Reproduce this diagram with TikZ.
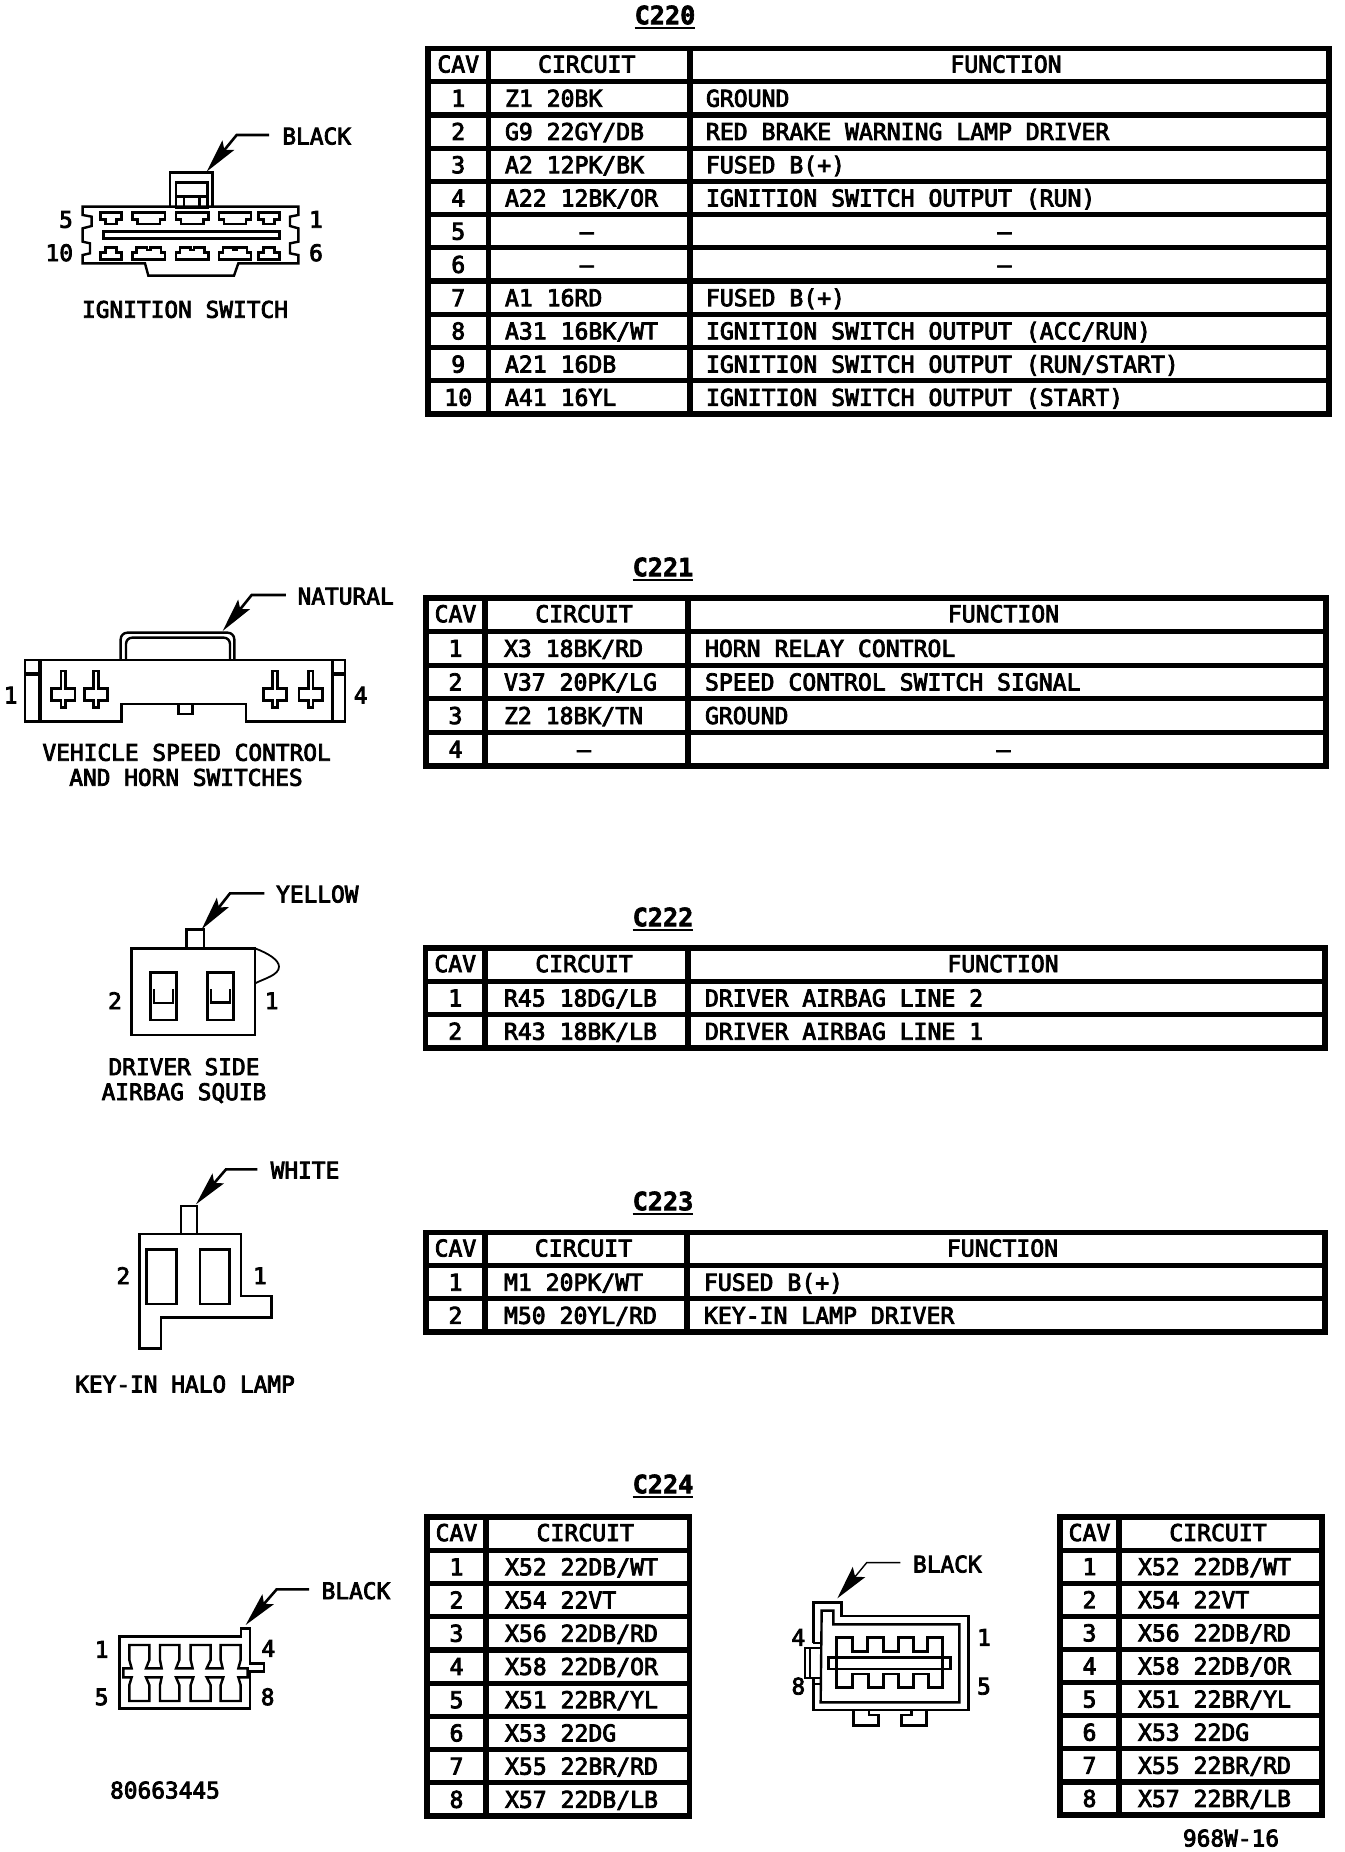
\documentclass[tikz,border=0pt]{standalone}
\usepackage{fontspec}
\usetikzlibrary{arrows.meta}
\newfontfamily\monoF[FakeBold=3.5]{DejaVu Sans Mono}
\newfontfamily\monoB[FakeBold=2.5]{DejaVu Sans Mono Bold}
\tikzset{
  txt/.style={inner sep=0pt,outer sep=0pt,anchor=base,yshift=-4.2pt,font=\monoF\fontsize{11.4}{13}\selectfont},
  tbc/.style={txt,font=\monoF\fontsize{11.55}{13}\selectfont},
  tbl/.style={tbc,anchor=base west},
  ttl/.style={inner sep=0pt,outer sep=0pt,anchor=base,yshift=-4.6pt,font=\monoB\fontsize{12.6}{14}\selectfont},
  ttlrule/.style={line width=1pt},
  grid/.style={line width=2.6pt,line cap=rect},
  shp/.style={line width=1.2pt,line join=miter},
  thin shp/.style={line width=0.9pt},
  leader/.style={line width=1.3pt,-{Stealth[length=17pt,width=7.5pt,inset=3pt]}},
  thin leader/.style={line width=0.7pt,-{Stealth[length=17pt,width=8pt,inset=3pt]}},
  zoomed/.style={xscale=1/3,yscale=1/3},
}
% table: name, x0, xcol1, xcol2 (9000 = no function column), xright, ytop, ybottom, rows(with header)
\newcommand\cgrid[8]{%
  \pgfmathsetmacro\tp{(#7-#6)/#8}\xdef\tpitch{\tp}\xdef\tytop{#6}%
  \xdef\tcav{\fpeval{(#2+#3)/2}}\xdef\tcirc{\fpeval{#3+19}}\xdef\tfunc{\fpeval{#4+17}}%
  \ifnum#4=9000 \xdef\tcirchead{\fpeval{(#3+#5)/2-2.5}}\else\xdef\tcirchead{\fpeval{(#3+#4)/2-2.5}}\fi
  \xdef\tfunchead{\fpeval{(#4+#5)/2-3.5}}%
  \draw[grid] (#2,#6) rectangle (#5,#7);
  \foreach \k in {1,...,#8}{\pgfmathsetmacro\yy{#6+\tp*\k}\draw[grid] (#2,\yy) -- (#5,\yy);}
  \draw[grid] (#3,#6) -- (#3,#7);
  \ifnum#4=9000 \else\draw[grid] (#4,#6) -- (#4,#7);\fi
  \xdef\tname{#1}%
  \pgfmathsetmacro\yy{#6+\tp/2-1}%
  \node[tbc] (\tname cavh) at (\tcav,\yy) {CAV};
  \node[tbc] (\tname circh) at (\tcirchead,\yy) {CIRCUIT};
  \ifnum#4=9000 \else\node[tbc] (\tname funch) at (\tfunchead,\yy) {FUNCTION};\fi
}
\newcommand\crow[4]{%
  \pgfmathsetmacro\yy{\tytop+\tpitch*(#1+0.5)}%
  \node[tbc] (\tname cav#1) at (\tcav,\yy) {#2};
  \node[tbl] (\tname cir#1) at (\tcirc,\yy) {#3};
  \node[tbl] (\tname fun#1) at (\tfunc,\yy) {#4};
}
\newcommand\crowdash[2]{%
  \pgfmathsetmacro\yy{\tytop+\tpitch*(#1+0.5)}%
  \node[tbc] (\tname cav#1) at (\tcav,\yy) {#2};
  \node[tbc] (\tname cir#1) at (\tcirchead,\yy) {–};
  \node[tbc] (\tname fun#1) at (\tfunchead,\yy) {–};
}
\newcommand\crowb[3]{%
  \pgfmathsetmacro\yy{\tytop+\tpitch*(#1+0.5)}%
  \node[tbc] (\tname cav#1) at (\tcav,\yy) {#2};
  \node[tbl] (\tname cir#1) at (\tcirc,\yy) {#3};
}
\newcommand\ctitle[3]{%
  \node[ttl] (#1) at (#2,#3) {#1};
  \draw[ttlrule] ([yshift=-2pt]#1.base west) -- ([yshift=-2pt]#1.base east);
}
\begin{document}
\begin{tikzpicture}[x=0.5pt,y=-0.5pt]
\useasboundingbox (0,0) rectangle (1344,1852);
\fill[white] (0,0) rectangle (1344,1852);

% ---------- tables ----------
\ctitle{C220}{665}{15}
\cgrid{a}{428}{488.5}{690}{1329}{48.5}{414}{11}
\xdef\tcirc{505}\xdef\tfunc{706}\xdef\tfunchead{1004.5}
\crow{1}{1}{Z1 20BK}{GROUND}
\crow{2}{2}{G9 22GY/DB}{RED BRAKE WARNING LAMP DRIVER}
\crow{3}{3}{A2 12PK/BK}{FUSED B(+)}
\crow{4}{4}{A22 12BK/OR}{IGNITION SWITCH OUTPUT (RUN)}
\crowdash{5}{5}
\crowdash{6}{6}
\crow{7}{7}{A1 16RD}{FUSED B(+)}
\crow{8}{8}{A31 16BK/WT}{IGNITION SWITCH OUTPUT (ACC/RUN)}
\crow{9}{9}{A21 16DB}{IGNITION SWITCH OUTPUT (RUN/START)}
\crow{10}{10}{A41 16YL}{IGNITION SWITCH OUTPUT (START)}

\ctitle{C221}{663}{567}
\cgrid{b}{426}{485}{688}{1326}{598}{766}{5}
\crow{1}{1}{X3 18BK/RD}{HORN RELAY CONTROL}
\crow{2}{2}{V37 20PK/LG}{SPEED CONTROL SWITCH SIGNAL}
\crow{3}{3}{Z2 18BK/TN}{GROUND}
\crowdash{4}{4}

\ctitle{C222}{663}{917}
\cgrid{c}{425.5}{485}{688}{1325}{948}{1048}{3}
\crow{1}{1}{R45 18DG/LB}{DRIVER AIRBAG LINE 2}
\crow{2}{2}{R43 18BK/LB}{DRIVER AIRBAG LINE 1}

\ctitle{C223}{663}{1201}
\cgrid{d}{426}{485}{687}{1325}{1232.5}{1332}{3}
\crow{1}{1}{M1 20PK/WT}{FUSED B(+)}
\crow{2}{2}{M50 20YL/RD}{KEY-IN LAMP DRIVER}

\ctitle{C224}{663}{1484}
\cgrid{e}{427}{486}{9000}{689.5}{1517}{1816}{9}
\crowb{1}{1}{X52 22DB/WT}
\crowb{2}{2}{X54 22VT}
\crowb{3}{3}{X56 22DB/RD}
\crowb{4}{4}{X58 22DB/OR}
\crowb{5}{5}{X51 22BR/YL}
\crowb{6}{6}{X53 22DG}
\crowb{7}{7}{X55 22BR/RD}
\crowb{8}{8}{X57 22DB/LB}

\cgrid{f}{1060}{1119}{9000}{1322}{1517}{1815}{9}
\crowb{1}{1}{X52 22DB/WT}
\crowb{2}{2}{X54 22VT}
\crowb{3}{3}{X56 22DB/RD}
\crowb{4}{4}{X58 22DB/OR}
\crowb{5}{5}{X51 22BR/YL}
\crowb{6}{6}{X53 22DG}
\crowb{7}{7}{X55 22BR/RD}
\crowb{8}{8}{X57 22BR/LB}
\node[txt] (figno) at (1231,1838) {968W-16};
\node[txt] (partno) at (165,1790) {80663445};

% ---------- ignition switch ----------
\begin{scope}[shift={(30,100)},zoomed]
\draw[shp] (158,320) -- (805,320) -- (805,345) -- (780,350) -- (780,378) -- (805,385) -- (805,425) -- (780,430) -- (780,460) -- (805,465) -- (805,490)
  -- (625,490) -- (612,527) -- (355,527) -- (345,490) -- (158,490) -- (158,465) -- (180,460) -- (180,430) -- (158,425) -- (158,385) -- (185,378) -- (185,350) -- (158,345) -- cycle;
\draw[shp] (420,320) -- (420,218) -- (548,218) -- (548,320);
\draw[line width=1.5pt] (420,218) -- (548,218);
\draw[shp] (438,322) rectangle (533,248);
\draw[shp] (438,290) -- (533,290) (462,290) -- (462,322) (508,290) -- (508,322);
\draw[shp] (220,393) rectangle (748,416);
\draw[line width=1.5pt] (220,393) -- (748,393);
\foreach \a/\b in {212/275,308/405,438/535,567/663,686/748}{
  \draw[shp] (\a,337) -- (\b,337) -- (\b,358) -- ({\b-15},358) -- ({\b-15},372) -- ({\a+15},372) -- ({\a+15},358) -- (\a,358) -- cycle;}
\foreach \a/\b in {212/275,686/748}{
  \draw[shp] (\a,478) -- (\b,478) -- (\b,458) -- ({\b-15},458) -- ({\b-15},443) -- ({\a+15},443) -- ({\a+15},458) -- (\a,458) -- cycle;}
\foreach \a/\b in {308/405,438/535,567/663}{
  \draw[shp] (\a,478) -- (\b,478) -- (\b,458) -- ({\b-12},458) -- ({\b-12},443) -- ({(\a+\b)/2+5},443) -- ({(\a+\b)/2+5},450) -- ({(\a+\b)/2-5},450) -- ({(\a+\b)/2-5},443) -- ({\a+12},443) -- ({\a+12},458) -- (\a,458) -- cycle;}
\node[txt] (ig5) at (108,358) {5};
\node[txt] (ig10) at (88,458) {10};
\node[txt] (ig1) at (858,358) {1};
\node[txt] (ig6) at (858,458) {6};
\node[txt] (igcap) at (465,628) {IGNITION SWITCH};
\node[txt] (igcol) at (860,108) {BLACK};
\coordinate (igknee) at (620,105);
\coordinate (igtip) at (530,215);
\draw[leader] (igcol.west |- igknee) ++(-40,0) -- (igknee) -- (igtip);
\end{scope}

% ---------- speed control ----------
\begin{scope}[shift={(0,570)},zoomed]
\draw[shp] (75,270) -- (1035,270) -- (1035,455) -- (738,455) -- (738,402) -- (365,402) -- (365,455) -- (75,455) -- cycle;
\draw[line width=1.7pt] (120,270) -- (120,455) (997,270) -- (997,455);
\draw[line width=1.7pt] (78,312) -- (118,312) (1000,312) -- (1035,312);
\draw[shp] (362,268) -- (362,208) to[out=90,in=180] (382,188) -- (683,188) to[out=0,in=90] (703,208) -- (703,268);
\draw[shp] (378,268) -- (378,222) to[out=90,in=180] (396,203) -- (672,203) to[out=0,in=90] (690,222) -- (690,268);
\draw[shp] (535,402) -- (535,432) -- (578,432) -- (578,402);
\foreach \c in {190,288,825,932}{
  \draw[shp] ({\c-7},303) -- ({\c+7},303) -- ({\c+7},355) -- ({\c+35},355) -- ({\c+35},392) -- ({\c+7},392) -- ({\c+7},413) -- ({\c-7},413) -- ({\c-7},392) -- ({\c-35},392) -- ({\c-35},355) -- ({\c-7},355) -- cycle;}
\node[txt] (sp1) at (32,375) {1};
\node[txt] (sp4) at (1082,375) {4};
\node[txt] (spcapa) at (560,547) {VEHICLE SPEED CONTROL};
\node[txt] (spcapb) at (558,622) {AND HORN SWITCHES};
\node[txt] (spcol) at (1037,78) {NATURAL};
\coordinate (spknee) at (755,75);
\coordinate (sptip) at (668,183);
\draw[leader] (spcol.west |- spknee) ++(-35,0) -- (spknee) -- (sptip);
\end{scope}

% ---------- airbag squib ----------
\begin{scope}[shift={(80,880)},zoomed]
\draw[shp] (155,205) rectangle (525,465);
\draw[shp] (320,205) -- (320,148) -- (372,148) -- (372,205);
\draw[thin shp] (525,205) .. controls (565,220) and (597,240) .. (597,260) .. controls (597,285) and (555,295) .. (525,310);
\draw[shp] (212,278) rectangle (290,420);
\draw[shp] (382,278) rectangle (460,420);
\draw[thin shp] (222,328) -- (222,368) -- (278,368) -- (278,328);
\draw[shp] (393,328) -- (393,368) -- (450,368) -- (450,328);
\node[txt] (sq2) at (105,362) {2};
\node[txt] (sq1) at (575,362) {1};
\node[txt] (sqcapa) at (312,560) {DRIVER SIDE};
\node[txt] (sqcapb) at (312,635) {AIRBAG SQUIB};
\node[txt] (sqcol) at (712,42) {YELLOW};
\coordinate (sqknee) at (450,40);
\coordinate (sqtip) at (365,148);
\draw[leader] (sqcol.west |- sqknee) ++(-35,0) -- (sqknee) -- (sqtip);
\end{scope}

% ---------- key-in halo lamp ----------
\begin{scope}[shift={(70,1160)},zoomed]
\draw[shp] (208,222) -- (513,222) -- (513,408) -- (605,408) -- (605,472) -- (273,472) -- (273,565) -- (208,565) -- cycle;
\draw[thin shp] (332,222) -- (332,138) -- (381,138) -- (381,222);
\draw[shp] (230,268) rectangle (320,432);
\draw[shp] (390,268) rectangle (478,432);
\node[txt] (ha2) at (160,347) {2};
\node[txt] (ha1) at (570,347) {1};
\node[txt] (hacap) at (345,672) {KEY-IN HALO LAMP};
\node[txt] (hacol) at (705,30) {WHITE};
\coordinate (haknee) at (468,28);
\coordinate (hatip) at (378,133);
\draw[leader] (hacol.west |- haknee) ++(-40,0) -- (haknee) -- (hatip);
\end{scope}

% ---------- C224 left connector ----------
\begin{scope}[shift={(80,1570)},zoomed]
\draw[shp] (118,200) -- (483,200) -- (483,175) -- (510,175) -- (510,280) -- (552,280) -- (552,305) -- (510,305) -- (510,415) -- (118,415) -- cycle;
\draw[shp] (130,295) -- (155,295) -- (148,270) -- (148,225) -- (208,225) -- (208,270) -- (198,295) -- (245,295) -- (240,270) -- (240,225) -- (298,225) -- (298,270) -- (288,295) -- (338,295) -- (332,270) -- (332,225) -- (392,225) -- (392,270) -- (380,295) -- (428,295) -- (422,270) -- (422,225) -- (482,225) -- (482,270) -- (475,295) -- (503,295)
  -- (503,322) -- (475,322) -- (482,345) -- (482,393) -- (422,393) -- (422,345) -- (430,322) -- (380,322) -- (392,345) -- (392,393) -- (332,393) -- (332,345) -- (340,322) -- (288,322) -- (298,345) -- (298,393) -- (240,393) -- (240,345) -- (245,322) -- (198,322) -- (208,345) -- (208,393) -- (148,393) -- (148,345) -- (155,322) -- (130,322) -- cycle;
\node[txt] (l1) at (65,238) {1};
\node[txt] (l5) at (65,380) {5};
\node[txt] (l4) at (565,235) {4};
\node[txt] (l8) at (563,380) {8};
\node[txt] (lcol) at (828,62) {BLACK};
\coordinate (lknee) at (590,58);
\coordinate (ltip) at (497,165);
\draw[leader] (lcol.west |- lknee) ++(-38,0) -- (lknee) -- (ltip);
\end{scope}

% ---------- C224 right connector ----------
\begin{scope}[shift={(780,1540)},zoomed]
\draw[shp] (100,308) -- (100,187) -- (185,187) -- (185,228) -- (565,228) -- (565,510) -- (100,510) -- (100,413);
\draw[shp] (125,212) -- (160,212) -- (160,253) -- (538,253) -- (538,487) -- (122,487) -- cycle;
\draw[thin shp] (100,308) -- (122,308) (100,325) -- (122,325) (100,413) -- (122,413) (100,432) -- (122,432);
\draw[thin shp] (122,325) -- (75,325) -- (75,413) -- (122,413) (90,325) -- (90,413);
\draw[shp] (145,352) rectangle (512,387);
\draw[shp] (170,387) -- (170,293) -- (217,293) -- (217,335) -- (263,335) -- (263,293) -- (310,293) -- (310,335) -- (355,335) -- (355,293) -- (400,293) -- (400,335) -- (443,335) -- (443,293) -- (488,293) -- (488,387);
\draw[shp] (170,387) -- (170,443) -- (218,443) -- (218,402) -- (265,402) -- (265,443) -- (310,443) -- (310,402) -- (355,402) -- (355,443) -- (400,443) -- (400,402) -- (445,402) -- (445,443) -- (488,443) -- (488,387);
\draw[shp] (220,510) -- (220,557) -- (295,557) -- (295,525) -- (267,525) -- (267,510);
\draw[shp] (440,510) -- (440,557) -- (365,557) -- (365,525) -- (395,525) -- (395,510);
\node[txt] (r4) at (55,292) {4};
\node[txt] (r8) at (55,438) {8};
\node[txt] (r1) at (612,292) {1};
\node[txt] (r5) at (612,438) {5};
\node[txt] (rcol) at (502,72) {BLACK};
\coordinate (rknee) at (260,68);
\coordinate (rtip) at (172,175);
\draw[thin leader] (rcol.west |- rknee) ++(-38,0) -- (rknee) -- (rtip);
\end{scope}
\end{tikzpicture}
\end{document}
